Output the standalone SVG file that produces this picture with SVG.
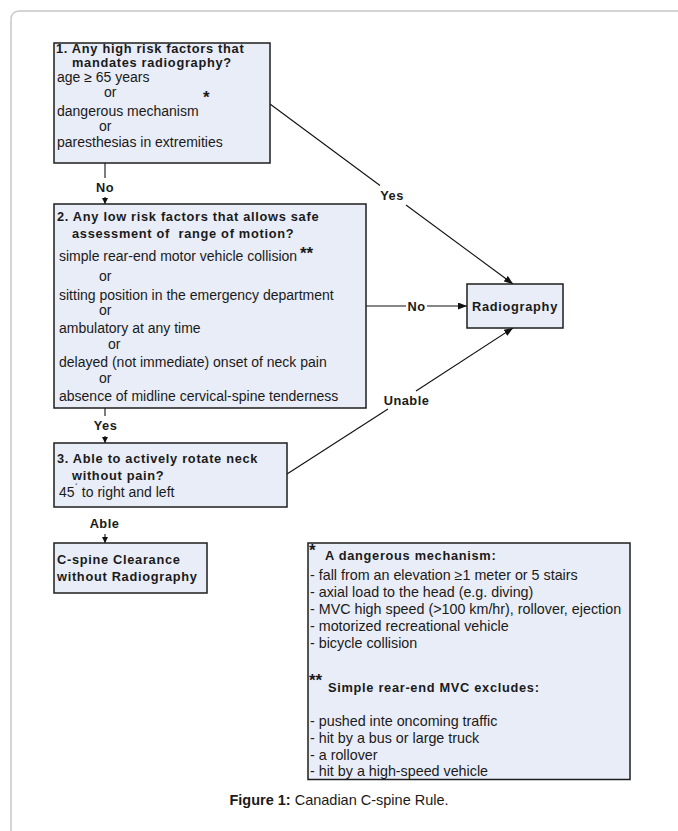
<svg xmlns="http://www.w3.org/2000/svg" width="678" height="831" viewBox="0 0 678 831">
<style>
text{font-family:"Liberation Sans",Arial,sans-serif;font-size:14px;fill:#1a1a1a}
.b{font-weight:bold;font-size:12.8px;letter-spacing:0.7px}
.lab{font-weight:bold;font-size:12.8px;letter-spacing:0.5px;text-anchor:middle}
.box{fill:#e8edf7;stroke:#1e1e1e;stroke-width:1.5}
.ln{stroke:#111;stroke-width:1.1;fill:none}
.star{font-weight:bold;font-size:17px}
.lg{font-size:14.3px}
</style>
<defs>
<marker id="arr" viewBox="0 0 9 7" refX="9" refY="3.5" markerWidth="9" markerHeight="7" markerUnits="userSpaceOnUse" orient="auto">
<path d="M0,0 L9,3.5 L0,7 z" fill="#111"/>
</marker>
<marker id="arrs" viewBox="0 0 6 6" refX="6" refY="3" markerWidth="6" markerHeight="6" markerUnits="userSpaceOnUse" orient="auto">
<path d="M0,0 L6,3 L0,6 z" fill="#111"/>
</marker>
</defs>
<rect x="11" y="11" width="700" height="860" rx="8" fill="#fff" stroke="#c8c8c8" stroke-width="1.5"/>

<g id="connectors">
<line class="ln" x1="105" y1="163" x2="105" y2="178"/>
<text class="lab" x="105" y="192">No</text>
<line class="ln" x1="105" y1="197" x2="105" y2="204" marker-end="url(#arrs)"/>

<line class="ln" x1="270" y1="104" x2="380" y2="185.5"/>
<text class="lab" x="392" y="200">Yes</text>
<line class="ln" x1="406" y1="205" x2="513" y2="284" marker-end="url(#arr)"/>

<line class="ln" x1="366" y1="306" x2="406" y2="306"/>
<text class="lab" x="416.5" y="310.5">No</text>
<line class="ln" x1="427" y1="306" x2="467" y2="306" marker-end="url(#arr)"/>

<line class="ln" x1="105" y1="408" x2="105" y2="416"/>
<text class="lab" x="105.5" y="429.5">Yes</text>
<line class="ln" x1="105" y1="436" x2="105" y2="443" marker-end="url(#arrs)"/>

<line class="ln" x1="287" y1="474" x2="388" y2="409"/>
<text class="lab" x="406.5" y="404.5">Unable</text>
<line class="ln" x1="416" y1="391" x2="513" y2="328" marker-end="url(#arr)"/>

<text class="lab" x="104.5" y="527.5">Able</text>
<line class="ln" x1="105" y1="534" x2="105" y2="543" marker-end="url(#arrs)"/>
</g>

<g id="q1">
<rect class="box" x="54" y="43" width="216" height="120"/>
<text class="b" x="56" y="53">1. Any high risk factors that</text>
<text class="b" x="72" y="66.5">mandates radiography?</text>
<text x="57" y="82">age ≥ 65 years</text>
<text x="104" y="96.5">or</text>
<text x="57" y="116">dangerous mechanism</text>
<text class="star" x="203" y="103">*</text>
<text x="99" y="131">or</text>
<text x="57" y="147">paresthesias in extremities</text>
</g>

<g id="q2">
<rect class="box" x="54" y="204" width="312" height="204"/>
<text class="b" x="57" y="220.5">2. Any low risk factors that allows safe</text>
<text class="b" x="72" y="237.5" xml:space="preserve">assessment of  range of motion?</text>
<text x="59" y="261">simple rear-end motor vehicle collision</text>
<text class="star" x="300" y="259">**</text>
<text x="99" y="281">or</text>
<text x="59" y="300">sitting position in the emergency department</text>
<text x="99" y="315">or</text>
<text x="59" y="333">ambulatory at any time</text>
<text x="108" y="348.5">or</text>
<text x="59" y="367">delayed (not immediate) onset of neck pain</text>
<text x="99" y="383">or</text>
<text x="59" y="400.5">absence of midline cervical-spine tenderness</text>
</g>

<g id="radiography">
<rect class="box" x="467" y="284" width="96" height="44"/>
<text class="b" x="515" y="310.5" text-anchor="middle">Radiography</text>
</g>

<g id="q3">
<rect class="box" x="54" y="443" width="233" height="64"/>
<text class="b" x="57" y="462.5">3. Able to actively rotate neck</text>
<text class="b" x="72" y="480">without pain?</text>
<text x="59" y="496.5">45<tspan font-size="10" dy="-5">ˊ</tspan><tspan dy="5"> to right and left</tspan></text>
</g>

<g id="clearance">
<rect class="box" x="54" y="543" width="153" height="50"/>
<text class="b" x="57" y="563.5">C-spine Clearance</text>
<text class="b" x="57" y="580.5">without Radiography</text>
</g>

<g id="legend">
<rect class="box" x="308" y="543" width="322" height="236.5"/>
<text class="star" x="309" y="556">*</text>
<text class="b" x="325" y="560">A dangerous mechanism:</text>
<text class="lg" x="310" y="580">- fall from an elevation ≥1 meter or 5 stairs</text>
<text class="lg" x="310" y="597">- axial load to the head (e.g. diving)</text>
<text class="lg" x="310" y="614">- MVC high speed (&gt;100 km/hr), rollover, ejection</text>
<text class="lg" x="310" y="631">- motorized recreational vehicle</text>
<text class="lg" x="310" y="648">- bicycle collision</text>
<text class="star" x="309" y="686">**</text>
<text class="b" x="328" y="692">Simple rear-end MVC excludes:</text>
<text class="lg" x="310" y="725.5">- pushed inte oncoming traffic</text>
<text class="lg" x="310" y="742.5">- hit by a bus or large truck</text>
<text class="lg" x="310" y="759.5">- a rollover</text>
<text class="lg" x="310" y="776">- hit by a high-speed vehicle</text>
</g>

<text x="339" y="805" text-anchor="middle" style="font-size:14.5px"><tspan font-weight="bold">Figure 1:</tspan> Canadian C-spine Rule.</text>
</svg>
